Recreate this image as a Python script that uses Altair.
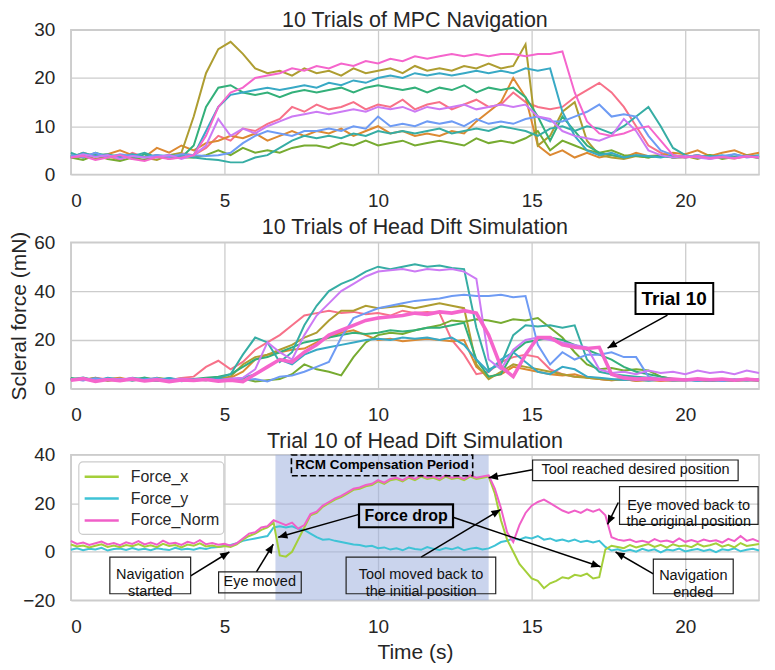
import math
import altair as alt
import pandas as pd

FONT = "Liberation Sans"
TXT = "#262626"
GRID = "#cccccc"

# ---------------- time grids ----------------
T = [round(0.4 * i, 1) for i in range(57)]      # trials panels
T3 = [round(0.2 * i, 1) for i in range(113)]    # trial 10 detail

TRIAL_NAMES = [f"Trial {i}" for i in range(1, 11)]
TRIAL_COLORS = ["#f77189", "#dc8932", "#ae9d31", "#77ab31", "#33b07a",
                "#36ada4", "#38a9c5", "#6e9bf4", "#cc7af4", "#f565cc"]

# ---------------- panel 1 : 10 trials of MPC navigation ----------------
MPC_1 = [4, 3.5, 4.2, 3.8, 3, 4.5, 3.6, 4, 3.2, 4.4,
         4, 5.5, 8, 7, 9.5, 9, 10.5, 11.5, 14, 13,
         14.5, 13.5, 14, 15, 13.5, 14.5, 14, 15.5, 13.5, 14.5,
         15, 13.5, 14.5, 15.5, 14, 14.5, 17, 15, 14, 13.5,
         14, 16, 17.5, 19, 17, 14, 10, 6, 4.5, 3.5,
         3.5, 4, 3.2, 3.8, 3.5, 4, 3.6]
MPC_2 = [3.5, 4.5, 3.8, 4.2, 5, 4, 3.6, 5.5, 4.5, 6,
         5, 6.5, 7, 8, 7.5, 8.5, 7, 8, 9, 8,
         9, 8.5, 9.5, 8, 9, 10, 8.5, 9, 8, 8.5,
         8, 9, 8.5, 11, 13, 15, 20, 16, 6, 4,
         5, 3.5, 4.5, 3.5, 4, 3.5, 4.5, 3.8, 4, 4.5,
         4.2, 5, 3.8, 4.5, 5, 4, 4.5]
MPC_3 = [3.5, 4, 3.2, 3.8, 3.5, 4.2, 3.5, 3, 4, 4.5,
         12, 21, 26, 27.5, 25, 22, 21, 21.5, 20.5, 22,
         21, 21.5, 20.5, 22, 21, 21.5, 22, 21, 22.5, 21.5,
         22, 21.5, 22.5, 22, 23, 22, 22.5, 27, 6, 8,
         13, 15, 7, 4, 3.5, 3.2, 3.8, 3.5, 4, 3.5,
         3.8, 3.2, 4, 3.5, 3.3, 3.8, 3.5]
MPC_4 = [3.5, 3, 4, 3.2, 2.8, 3.5, 3, 3.8, 3.3, 3.5,
         3.5, 4, 5, 4, 5.5, 4.5, 5, 4.5, 5.5, 6,
         6, 5.5, 6.5, 6, 7, 6, 6.5, 7, 6, 6.5,
         7, 6.5, 6, 7.5, 6.5, 7, 6.5, 7.5, 9, 5,
         7, 6, 5, 4.5, 5, 4, 3.8, 3.5, 4, 3.5,
         3.8, 3.5, 4, 3.2, 3.6, 3.8, 3.4]
MPC_5 = [4, 3.5, 4.5, 3.8, 4, 3.2, 4.2, 3.6, 4, 3.5,
         6, 14, 18, 18.5, 17, 16.5, 17, 16, 17, 17.5,
         17, 17.5, 18, 17, 18, 18.5, 18, 17.5, 18, 17,
         18, 17.5, 18.5, 17, 18, 17.5, 18, 16, 12, 7,
         12, 9, 6, 4.5, 4, 3.5, 4, 3.6, 3.8, 3.5,
         3.6, 4, 3.4, 3.8, 3.5, 3.9, 3.6]
MPC_6 = [4.5, 3.5, 4, 4.2, 3.5, 3.8, 4.5, 3.5, 4, 3.8,
         3.5, 3.2, 3, 2.5, 2.5, 3.5, 4, 5.5, 7, 8,
         7.5, 8, 7.5, 8.5, 8, 9, 8.5, 9, 8.5, 9,
         9.5, 8.5, 9, 9.5, 9, 10, 9.5, 9, 8, 9.5,
         10, 9, 10, 9.5, 8.5, 10, 12, 14, 10, 5.5,
         4, 3.5, 3.8, 3.5, 4.2, 3.6, 4]
MPC_7 = [3.5, 4.5, 3.8, 4, 3.5, 4.2, 3.6, 4, 3.8, 3.5,
         4, 9, 14, 16.5, 17, 17.5, 18, 17.5, 18, 18.5,
         18, 19, 18.5, 19.5, 19, 20, 20.5, 20, 21, 20.5,
         21, 20.5, 21, 21.5, 21, 21.5, 21, 22, 21.5, 22,
         13, 8, 5, 4, 4.5, 3.5, 4, 3.8, 3.5, 4,
         3.5, 3.8, 3.6, 4, 3.4, 3.8, 3.5]
MPC_8 = [4, 3.6, 4.5, 3.5, 4.2, 3.8, 3.5, 4, 3.6, 4.2,
         4, 3.8, 4, 4.5, 6.5, 8, 9, 8.5, 8, 9,
         9, 9.5, 9, 10, 9.5, 12, 10, 10.5, 10, 11,
         10.5, 11, 10, 11.5, 10.5, 11, 10.5, 11.5, 12, 11,
         11, 12, 13, 14.5, 12, 12.5, 12, 8, 5, 4,
         3.6, 4, 3.5, 3.8, 4.2, 3.5, 3.8]
MPC_9 = [3.5, 4.2, 3.6, 4, 3.2, 3.8, 3.5, 3.6, 4, 3.2,
         4, 6, 11.5, 8, 9.5, 8.5, 10, 11, 12, 12.5,
         13, 12.5, 13, 13.5, 13, 14, 13.5, 14, 13, 14,
         13.5, 14, 14.5, 13.5, 14, 14.5, 14, 14.5, 12, 11.5,
         9, 8, 7.5, 7, 8, 11.5, 9, 5, 4, 3.5,
         3.8, 3.5, 3.2, 3.6, 3.4, 3.8, 3.5]
MPC_10 = [3.5, 3.8, 3, 3.5, 4, 3.2, 2.8, 3.6, 3.2, 3.5,
          4, 8, 14, 17, 18, 20, 20.5, 21, 22, 21.5,
          22.5, 22, 23, 22.5, 23.5, 23, 24, 23.5, 24.5, 24,
          24.5, 25, 24.5, 25, 24.5, 25, 25, 24.5, 25, 25,
          25.5, 17, 11, 8.5, 8, 8.5, 9.5, 10, 7, 4,
          3.5, 3.8, 3.4, 3.6, 3.3, 3.7, 3.5]
MPC = [MPC_1, MPC_2, MPC_3, MPC_4, MPC_5, MPC_6, MPC_7, MPC_8, MPC_9, MPC_10]

# ---------------- panel 2 : 10 trials of head drift simulation ----------------
HEAD_1 = [4, 3.5, 4.5, 3.8, 3.2, 4.2, 3.6, 4, 3.4, 4.5,
          5, 9, 11.5, 8, 11, 16, 19, 22, 26, 30,
          31, 32, 31, 31.5, 30.5, 31, 30, 32, 31, 31.5,
          31, 20, 14, 6, 7, 11, 13, 14, 13, 8,
          6, 5, 5, 4, 3.5, 4, 3.2, 3.8, 3.5, 4,
          3.6, 4, 3.3, 3.8, 3.5, 4.2, 3.6]
HEAD_2 = [3.5, 4.2, 3, 4, 4.5, 3.4, 4, 3.2, 3.8, 4.2,
          3.5, 4, 3.6, 4.5, 7, 12, 14, 15, 16, 16.5,
          19, 21, 23, 24, 22, 20, 20.5, 19.5, 20, 20.5,
          20, 19.5, 20, 9, 5, 6, 9, 8, 7, 6,
          5.5, 6, 4.5, 4, 3.5, 3.8, 3.4, 3.6, 3.2, 3.5,
          3.8, 3.4, 3.2, 3.6, 3.3, 3.7, 3.2]
HEAD_3 = [4.2, 3.6, 4.5, 3.2, 4, 3.5, 4.4, 3.8, 3.3, 4,
          3.8, 3.5, 4.2, 5, 10, 13, 14, 16, 18, 21,
          23, 28, 32, 32, 34, 33, 33.5, 34, 33, 34,
          35, 34, 33, 10, 4, 7, 10, 9, 8, 7,
          6, 5, 4.5, 4, 3.6, 3.8, 3.4, 3.5, 3.8, 3.3,
          3.5, 3.9, 3.2, 3.6, 3.4, 3.8, 3.5]
HEAD_4 = [3.8, 4.4, 3.2, 4, 3.6, 4.2, 3.4, 4.5, 3.8, 3.5,
          3.6, 4, 3.5, 3.8, 4.2, 3, 3.5, 4, 6, 10,
          8, 7, 5.5, 13, 19, 22, 23, 22.5, 24, 25,
          26, 28, 27.5, 28.5, 28, 27, 28.5, 28, 29, 25,
          21, 15, 10, 8, 8.5, 7.5, 8, 7.5, 5, 4,
          3.8, 3.5, 3.9, 3.3, 3.6, 3.4, 3.7]
HEAD_5 = [4.5, 3.8, 4.2, 3.5, 4, 3.6, 4.6, 3.4, 4, 3.8,
          4, 4.5, 5, 6, 9, 12, 13, 15, 17, 19,
          20, 21, 22, 23, 22.5, 23, 24, 23.5, 24, 25,
          25, 26, 27, 12, 5, 6, 15, 19, 20, 21,
          20, 18, 16, 14, 12, 9, 7, 6, 5, 4,
          3.6, 4, 3.5, 3.8, 3.3, 3.6, 3.9]
HEAD_6 = [3.8, 4.6, 3.5, 4.2, 3.3, 4.5, 3.9, 3.2, 4.4, 3.6,
          4, 3.8, 4.5, 6, 14, 21, 19, 11, 15, 26,
          34, 40, 43, 45, 48, 50, 49, 50, 51, 50,
          50.5, 49.5, 49, 25, 8, 10, 22, 26, 25.5, 26,
          25, 26, 12, 7, 6, 5.5, 5, 4.5, 4, 3.6,
          3.4, 3.8, 3.2, 3.6, 3.5, 3.8, 3.3]
HEAD_7 = [3.5, 4, 3.2, 4.5, 3.8, 3.4, 4.1, 3.6, 4.4, 3.1,
          3.8, 3.5, 4, 3.6, 4.5, 6, 9, 12, 10, 14,
          16, 17, 18, 19, 20, 20.5, 20, 21, 20.5, 21,
          20, 21, 18, 12, 7, 12, 15, 11, 7, 6,
          9, 8, 5, 4.5, 4, 3.6, 3.9, 3.3, 3.7, 3.4,
          3.6, 3.2, 3.8, 3.5, 3.9, 3.4, 3.6]
HEAD_8 = [4, 3.4, 4.3, 3.7, 4.1, 3.5, 3.8, 4.4, 3.2, 3.9,
          3.6, 4, 3.5, 3.8, 3.5, 4, 3, 5, 5.5, 7,
          9, 11, 21, 29, 31, 33, 34, 35, 36, 36.5,
          37, 38, 38.5, 38, 38, 38.5, 37.5, 38, 18, 10,
          15, 12, 14, 14, 15, 13, 13, 5, 4, 3.5,
          3.8, 3.4, 3.6, 3.2, 3.7, 3.5, 3.9]
HEAD_9 = [3.6, 4.2, 3.4, 4, 3.8, 4.4, 3.2, 4, 3.5, 4.2,
          3.7, 4, 3.5, 4.2, 4.5, 8, 19, 15, 12, 22,
          30, 35, 40, 43, 46, 48, 48.5, 49, 48, 49,
          48.5, 49, 48, 45, 12, 8, 16, 20, 21, 20,
          19, 18, 17, 8, 6.5, 7, 6, 7.5, 6.5, 7,
          6, 7.5, 6.5, 7, 6, 7.5, 6.5]
HEAD_10 = [3.5, 4.2, 3, 3.8, 3.3, 4, 3.2, 3.7, 2.9, 3.6,
           3.4, 3.8, 3.1, 3.5, 3, 6, 9, 12, 11, 15,
           18, 22, 24, 26, 28, 29, 29.5, 30, 31, 30.5,
           31.5, 31, 32, 31, 22, 9, 5, 14, 21, 21,
           18, 17, 16.5, 17, 6, 4.5, 4, 4.2, 3.8, 4,
           3.6, 4.1, 3.7, 4, 3.5, 3.9, 3.6]
HEAD = [HEAD_1, HEAD_2, HEAD_3, HEAD_4, HEAD_5, HEAD_6, HEAD_7, HEAD_8, HEAD_9, HEAD_10]

# ---------------- panel 3 : trial 10 in detail ----------------
FORCE_NAMES = ["Force_x", "Force_y", "Force_Norm"]
FORCE_COLORS = ["#a4cf3a", "#3fc3d6", "#f05fc8"]
FORCE_X = [3, 2.2, 2.6, 1.8, 2.5, 3.1, 2, 2.6, 1.9, 2.8,
           2.3, 3.2, 2.1, 2.7, 1.9, 3.3, 2.4, 2.8, 1.8, 3,
           2.5, 3.5, 2.2, 2.6, 2, 2.4, 2, 3, 5, 6.5,
           7.5, 9, 10, 12, -1.5, -2, 0, 5, 10, 15,
           16, 18.5, 20, 21.5, 22.5, 24, 25.5, 26, 27, 27.5,
           29, 28, 29.5, 30, 29, 30.5, 29.5, 31, 30, 30.5,
           29.5, 31, 30, 30.5, 29.5, 31, 30, 30.5, 31, 24,
           13, 5, 0, -5, -8, -11, -12, -15, -13, -12,
           -10.5, -11, -9.5, -10, -9, -11, -10.5, 1, 2.5, 2,
           1.5, 2.8, 1.8, 2.5, 3.2, 2, 2.9, 1.7, 3.1, 2.3,
           2.6, 1.9, 3.3, 2.2, 2.7, 3.5, 2.1, 2.9, 1.8, 3.6,
           2.4, 2.8, 3.2]
FORCE_Y = [0.8, 1.4, 0.6, 1.2, 0.9, 1.6, 0.5, 1.1, 1.3, 0.7,
           1.5, 0.8, 1.2, 0.6, 1.4, 1, 0.7, 1.6, 0.9, 1.2,
           0.8, 1.5, 1.1, 1.8, 2, 2.4, 2.8, 3.5, 4.5, 5,
           5.5, 6, 6.5, 10, 10.5, 10, 10.5, 9.5, 9, 7.5,
           6, 5, 5.2, 4.5, 4, 3.5, 3, 2.8, 2.2, 2.5,
           1.5, 1.8, 0.9, 1.4, 0.6, 1.7, 1.1, 0.8, 1.9, 1.2,
           0.7, 1.5, 1, 1.8, 0.6, 1.3, 1.6, 0.9, 1.4, 2.5,
           4, 4.5, 5.5, 5, 6, 5.5, 6.5, 5, 5.5, 4.5,
           5, 4.2, 5, 4, 4.5, 3.8, 4.5, 2, 0.5, 1,
           0.2, 0.8, 0, 1.2, 0.4, 1, -0.3, 0.9, 0.5, 1.3,
           0.1, 0.7, 1.1, 0.3, 0.9, -0.2, 1, 0.6, 1.4, 0.2,
           0.8, 1.2, 0.5]
FORCE_NORM = [4.5, 3.2, 3.8, 2.8, 3.5, 4.2, 3, 3.6, 2.7, 3.9,
              3.2, 4.4, 3, 3.8, 2.9, 4.6, 3.3, 3.7, 2.8, 4.1,
              3.4, 4.8, 3.1, 3.6, 2.9, 3.3, 2.5, 3.5, 5.5, 7.5,
              8, 10, 10.5, 13, 12, 11, 12, 9.5, 11, 15.5,
              16.5, 19, 20.5, 22, 23, 24.5, 26, 26.5, 27.5, 28,
              29.5, 28.5, 30, 30.5, 29.5, 31, 30, 31.5, 30.5, 31,
              30, 31.5, 30.5, 31, 30, 31.5, 30.5, 31, 31.5, 26,
              18, 8, 4, 11, 16, 19, 20.5, 21.5, 20, 18.5,
              17, 16, 17, 16, 17.5, 16.5, 17.5, 15, 6, 5,
              4.5, 5, 4, 4.5, 3.8, 5.2, 4.2, 4.6, 3.9, 5.5,
              4.1, 4.8, 4, 5, 4.3, 4.7, 3.8, 5.3, 4.4, 6.5,
              4.5, 5.2, 4.2]

# ---------------- annotations (data units) ----------------
SHADE = {"t": [6.66], "t2": [13.6], "f": [-20], "f2": [40]}

P3_BOX_THIN = {"t": [15.03, 17.86, 18.96, 8.96, 1.27, 4.81],
               "t2": [21.72, 22.37, 21.56, 13.83, 3.90, 7.50],
               "f": [37.8, 26.8, -3.0, -2.2, -2.2, -8.3],
               "f2": [29.3, 11.3, -17.3, -17.3, -17.3, -16.9]}
P3_BOX_BOLD = {"t": [9.38], "t2": [12.44], "f": [19.5], "f2": [10.1]}
P3_BOX_DASH = {"t": [7.18], "t2": [13.08], "f": [39.9], "f2": [31.3]}
P3_TEXT = {"label": ["Tool reached desired position",
                     "Eye moved back to\nthe original position",
                     "Navigation\nended",
                     "Tool moved back to\nthe initial position",
                     "Navigation\nstarted",
                     "Eye moved"],
           "t": [18.38, 20.11, 20.26, 11.4, 2.58, 6.15],
           "f": [33.55, 19.05, -10.15, -9.75, -9.75, -12.6]}
P3_TEXT_BOLD = {"label": ["Force drop"], "t": [10.91], "f": [14.8]}
P3_TEXT_RCM = {"label": ["RCM Compensation Period"], "t": [10.13], "f": [35.6]}
P3_ARROWS = {"t": [9.38, 12.44, 15.03, 17.82, 18.96, 11.4, 3.9, 6.04],
             "f": [15.4, 14.2, 33.8, 20.3, -9.1, -2.2, -9.9, -8.3],
             "t2": [6.75, 17.24, 13.6, 17.47, 17.73, 13.99, 5.16, 6.59],
             "f2": [6.0, -6.2, 30.5, 11.3, -0.1, 17.4, -0.1, 3.1]}

P2_BOX = {"t": [18.38], "t2": [20.91], "f": [43.3], "f2": [30.6]}
P2_TEXT = {"label": ["Trial 10"], "t": [19.64], "f": [36.9]}
P2_ARROWS = {"t": [19.42], "f": [30.2], "t2": [17.47], "f2": [16.7]}

LEGEND_BOX = {"t": [0.26], "t2": [4.98], "f": [37.0], "f2": [7.2]}
LEGEND_ROWS = {"s": FORCE_NAMES, "t": [0.45, 0.45, 0.45], "t2": [1.56, 1.56, 1.56],
               "tl": [1.95, 1.95, 1.95], "f": [30.9, 21.9, 12.9]}

# ---------------- geometry ----------------
W = 690
H1, H2, H3 = 145, 147, 146
XDOM = [0, 22.4]


def long_df(series, names, t):
    rows = []
    for name, vals in zip(names, series):
        assert len(vals) == len(t), (name, len(vals))
        rows += [{"t": a, "f": b, "s": name} for a, b in zip(t, vals)]
    return pd.DataFrame(rows)


class Panel:
    def __init__(self, dom, ticks, xtitle, ytitle, height):
        self.dom, self.ticks, self.xt, self.yt, self.h = dom, ticks, xtitle, ytitle, height

    def x(self, field="t"):
        return alt.X(f"{field}:Q", scale=alt.Scale(domain=XDOM, nice=False, zero=False),
                     axis=alt.Axis(values=[0, 5, 10, 15, 20], title=self.xt))

    def y(self, field="f"):
        return alt.Y(f"{field}:Q", scale=alt.Scale(domain=self.dom, nice=False, zero=False),
                     axis=alt.Axis(values=self.ticks, title=self.yt))

    def rect(self, d, **kw):
        return alt.Chart(pd.DataFrame(d)).mark_rect(**kw).encode(
            x=self.x(), y=self.y(), x2="t2:Q", y2="f2:Q")

    def text(self, d, **kw):
        return alt.Chart(pd.DataFrame(d)).mark_text(font=FONT, **kw).encode(
            x=self.x(), y=self.y(), text="label:N")

    def arrows(self, d):
        df = pd.DataFrame(d)
        pxt = W / (XDOM[1] - XDOM[0])
        pxy = self.h / (self.dom[1] - self.dom[0])
        angs = []
        for a, b, c, e in zip(df.t, df.f, df.t2, df.f2):
            dx = (c - a) * pxt
            dy = -(e - b) * pxy
            angs.append(math.degrees(math.atan2(dx, -dy)) % 360)
        df["ang"] = angs
        rule = alt.Chart(df).mark_rule(color="black", strokeWidth=1.5).encode(
            x=self.x(), y=self.y(), x2="t2:Q", y2="f2:Q")
        head = alt.Chart(df).mark_point(shape="M0,0L-0.42,1L0.42,1Z", filled=True,
                                        color="black", opacity=1, size=340).encode(
            x=self.x("t2"), y=self.y("f2"), angle=alt.Angle("ang:Q", scale=None))
        return [rule, head]


def title(text, offset):
    return alt.TitleParams(text, fontSize=21.5, font=FONT, fontWeight="normal",
                           color=TXT, offset=offset, anchor="middle")


trial_col = alt.Color("s:N", scale=alt.Scale(domain=TRIAL_NAMES, range=TRIAL_COLORS), legend=None)
force_col = alt.Color("s:N", scale=alt.Scale(domain=FORCE_NAMES, range=FORCE_COLORS), legend=None)

# ---------------- panel 1 ----------------
P1 = Panel([0, 30], [0, 10, 20, 30], None, None, H1)
p1 = alt.Chart(long_df(MPC, TRIAL_NAMES, T)).mark_line(strokeWidth=2).encode(
    x=P1.x(), y=P1.y(), color=trial_col
).properties(width=W, height=H1, title=title("10 Trials of MPC Navigation", -11))

# ---------------- panel 2 ----------------
P2 = Panel([0, 60], [0, 20, 40, 60], None, "Scleral force (mN)", H2)
l2 = alt.Chart(long_df(HEAD[:9], TRIAL_NAMES[:9], T)).mark_line(strokeWidth=2).encode(
    x=P2.x(), y=P2.y(), color=trial_col)
l2b = alt.Chart(long_df([HEAD[9]], [TRIAL_NAMES[9]], T)).mark_line(strokeWidth=3.6).encode(
    x=P2.x(), y=P2.y(), color=trial_col)
p2 = alt.layer(
    l2, l2b, *P2.arrows(P2_ARROWS),
    P2.rect(P2_BOX, fill="white", stroke="black", strokeWidth=2),
    P2.text(P2_TEXT, fontSize=19, fontWeight="bold", color="black"),
).properties(width=W, height=H2, title=title("10 Trials of Head Dift Simulation", -7))

# ---------------- panel 3 ----------------
P3 = Panel([-20, 40], [-20, 0, 20, 40], "Time (s)", None, H3)
df3 = long_df([FORCE_Y, FORCE_X, FORCE_NORM], ["Force_y", "Force_x", "Force_Norm"], T3)
l3 = alt.Chart(df3).mark_line(strokeWidth=2).encode(x=P3.x(), y=P3.y(), color=force_col)
lg_df = pd.DataFrame(LEGEND_ROWS)
lg_line = alt.Chart(lg_df).mark_rule(strokeWidth=2.5).encode(
    x=P3.x(), y=P3.y(), x2="t2:Q", color=force_col)
lg_txt = alt.Chart(lg_df).mark_text(font=FONT, fontSize=16, color=TXT, align="left").encode(
    x=P3.x("tl"), y=P3.y(), text="s:N")
p3 = alt.layer(
    P3.rect(SHADE, fill="#9fb1df", opacity=0.55),
    l3,
    *P3.arrows(P3_ARROWS),
    P3.rect(P3_BOX_THIN, fillOpacity=0, stroke="#222222", strokeWidth=1.2),
    P3.rect(P3_BOX_BOLD, fillOpacity=0, stroke="black", strokeWidth=2.2),
    P3.rect(P3_BOX_DASH, fillOpacity=0, stroke="black", strokeWidth=1.6, strokeDash=[6, 3]),
    P3.text(P3_TEXT, fontSize=14.5, color="#111111", lineBreak="\n", lineHeight=17),
    P3.text(P3_TEXT_BOLD, fontSize=16, fontWeight="bold", color="black"),
    P3.text(P3_TEXT_RCM, fontSize=13.5, fontWeight="bold", color="black"),
    P3.rect(LEGEND_BOX, fill="white", stroke=GRID, strokeWidth=1.2, cornerRadius=4),
    lg_line, lg_txt,
).properties(width=W, height=H3, title=title("Trial 10 of Head Dift Simulation", -7))

chart = alt.vconcat(p1, p2, p3, spacing=4).resolve_scale(color="independent").properties(
    padding={"left": 0, "top": 0, "right": 0, "bottom": 0}, background="white"
).configure_view(stroke=GRID, strokeWidth=1.5).configure_axis(
    grid=True, gridColor=GRID, gridWidth=1.3, domain=False, ticks=False, tickSize=0,
    labelFont=FONT, labelFontSize=19, labelColor=TXT,
    titleFont=FONT, titleFontSize=21, titleFontWeight="normal", titleColor=TXT
).configure_axisX(labelPadding=17, titlePadding=5).configure_axisY(labelPadding=16, titlePadding=4)

chart.save("out.html", embed_options={"renderer": "svg", "actions": False})
